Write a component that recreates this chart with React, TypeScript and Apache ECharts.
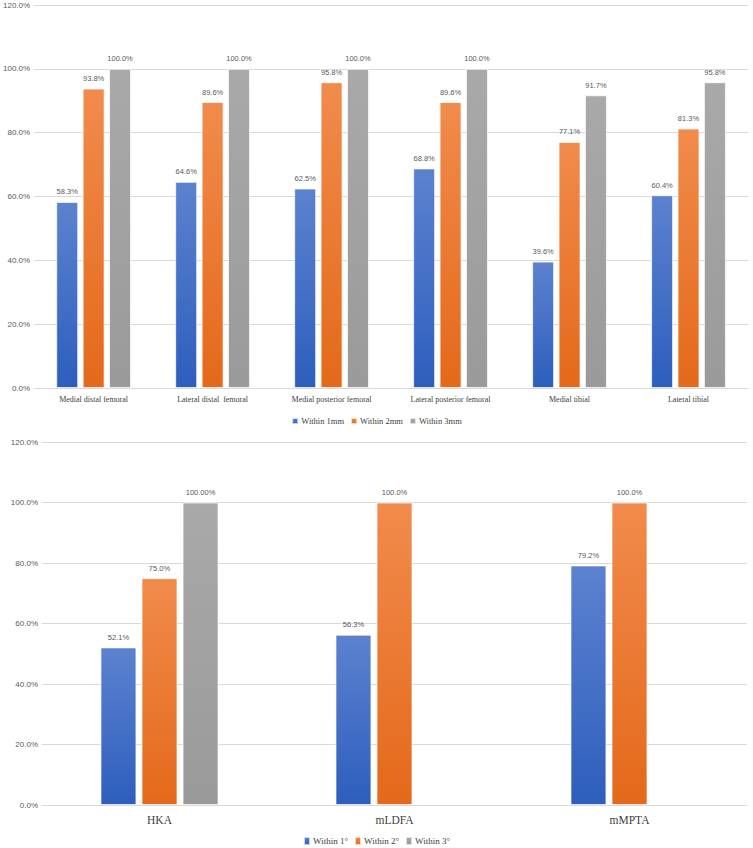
import React, { useEffect, useRef } from "react";
import * as echarts from "echarts";

const topCategories = [
  "Medial distal femoral",
  "Lateral distal  femoral",
  "Medial posterior femoral",
  "Lateral posterior femoral",
  "Medial tibial",
  "Lateral tibial",
];
const topWithin1 = [58.3, 64.6, 62.5, 68.8, 39.6, 60.4];
const topWithin2 = [93.8, 89.6, 95.8, 89.6, 77.1, 81.3];
const topWithin3 = [100.0, 100.0, 100.0, 100.0, 91.7, 95.8];
const topNames = ["Within 1mm", "Within 2mm", "Within 3mm"];

const bottomCategories = ["HKA", "mLDFA", "mMPTA"];
const bottomWithin1 = [52.1, 56.3, 79.2];
const bottomWithin2 = [75.0, 100.0, 100.0];
const bottomWithin3 = [100.0, null, null];
const bottomNames = ["Within 1°", "Within 2°", "Within 3°"];

const yTicks = [0, 20, 40, 60, 80, 100, 120];

const grad = (top: string, bottom: string) =>
  new echarts.graphic.LinearGradient(0, 0, 0, 1, [
    { offset: 0, color: top },
    { offset: 1, color: bottom },
  ]);

const BLUE = () => grad("#5c82cf", "#2d5ebd");
const ORANGE = () => grad("#f18b4c", "#e4691a");
const GRAY = () => grad("#a9a9a9", "#9a9a9a");

export default function App() {
  const ref = useRef<HTMLDivElement>(null);
  useEffect(() => {
    document.body.style.margin = "0";
    const chart = echarts.init(ref.current!, null, { renderer: "svg" });
    const labelStyle = (size: number, decimals: number) => ({
      show: true,
      position: "top" as const,
      distance: 6,
      fontSize: size,
      color: "#595959",
      fontFamily: "Liberation Sans",
      formatter: (p: any) =>
        p.value == null ? "" : Number(p.value).toFixed(decimals) + "%",
    });
    const itemStyle = (color: any) => ({
      color,
      borderColor: "rgba(255,255,255,0.7)",
      borderWidth: 1,
    });
    const yAxisBase = (gridIndex: number, size: number) => ({
      type: "value" as const,
      gridIndex,
      min: 0,
      max: 120,
      interval: 20,
      axisLine: { show: false },
      axisTick: { show: false },
      splitLine: { lineStyle: { color: "#d9d9d9", width: 1 } },
      axisLabel: {
        fontSize: size,
        color: "#595959",
        fontFamily: "Liberation Sans",
        margin: 4,
        formatter: (v: number) =>
          yTicks.includes(v) ? v.toFixed(1) + "%" : "",
      },
    });
    const xAxisBase = (
      gridIndex: number,
      data: string[],
      size: number,
      margin: number
    ) => ({
      type: "category" as const,
      gridIndex,
      data,
      axisLine: { lineStyle: { color: "#d9d9d9", width: 1 } },
      axisTick: { show: false },
      axisLabel: {
        fontSize: size,
        color: "#404040",
        fontFamily: "Liberation Serif",
        margin,
        interval: 0,
      },
    });
    chart.setOption({
      animation: false,
      backgroundColor: "#ffffff",
      grid: [
        { left: 31, right: 5, top: 5, height: 383 },
        { left: 42, right: 6, top: 442, height: 363 },
      ],
      xAxis: [
        xAxisBase(0, topCategories, 8, 7),
        xAxisBase(1, bottomCategories, 11.5, 9),
      ],
      yAxis: [yAxisBase(0, 8), yAxisBase(1, 8)],
      legend: [
        {
          data: topNames,
          left: "center",
          top: 411,
          itemWidth: 6,
          itemHeight: 6,
          itemGap: 6,
          icon: "rect",
          textStyle: {
            fontSize: 8.5,
            lineHeight: 10,
            color: "#404040",
            fontFamily: "Liberation Serif",
            padding: [0, 0, 0, -2],
          },
        },
        {
          data: bottomNames,
          left: "center",
          top: 836,
          padding: 0,
          itemWidth: 6,
          itemHeight: 8,
          itemGap: 6,
          icon: "rect",
          textStyle: {
            fontSize: 9,
            lineHeight: 10,
            color: "#404040",
            fontFamily: "Liberation Serif",
            padding: [0, 0, 0, -2],
          },
        },
      ],
      series: [
        {
          name: topNames[0],
          type: "bar",
          xAxisIndex: 0,
          yAxisIndex: 0,
          data: topWithin1,
          barWidth: 22,
          barGap: "20%",
          itemStyle: itemStyle(BLUE()),
          label: labelStyle(7.5, 1),
        },
        {
          name: topNames[1],
          type: "bar",
          xAxisIndex: 0,
          yAxisIndex: 0,
          data: topWithin2,
          barWidth: 22,
          barGap: "20%",
          itemStyle: itemStyle(ORANGE()),
          label: labelStyle(7.5, 1),
        },
        {
          name: topNames[2],
          type: "bar",
          xAxisIndex: 0,
          yAxisIndex: 0,
          data: topWithin3,
          barWidth: 22,
          barGap: "20%",
          itemStyle: itemStyle(GRAY()),
          label: labelStyle(7.5, 1),
        },
        {
          name: bottomNames[0],
          type: "bar",
          xAxisIndex: 1,
          yAxisIndex: 1,
          data: bottomWithin1,
          barWidth: 36,
          barGap: "14%",
          itemStyle: itemStyle(BLUE()),
          label: labelStyle(7.5, 1),
        },
        {
          name: bottomNames[1],
          type: "bar",
          xAxisIndex: 1,
          yAxisIndex: 1,
          data: bottomWithin2,
          barWidth: 36,
          barGap: "14%",
          itemStyle: itemStyle(ORANGE()),
          label: labelStyle(7.5, 1),
        },
        {
          name: bottomNames[2],
          type: "bar",
          xAxisIndex: 1,
          yAxisIndex: 1,
          data: bottomWithin3,
          barWidth: 36,
          barGap: "14%",
          itemStyle: itemStyle(GRAY()),
          label: labelStyle(7.5, 2),
        },
      ],
    });
    return () => chart.dispose();
  }, []);
  return <div ref={ref} style={{ width: 753, height: 848 }} />;
}
